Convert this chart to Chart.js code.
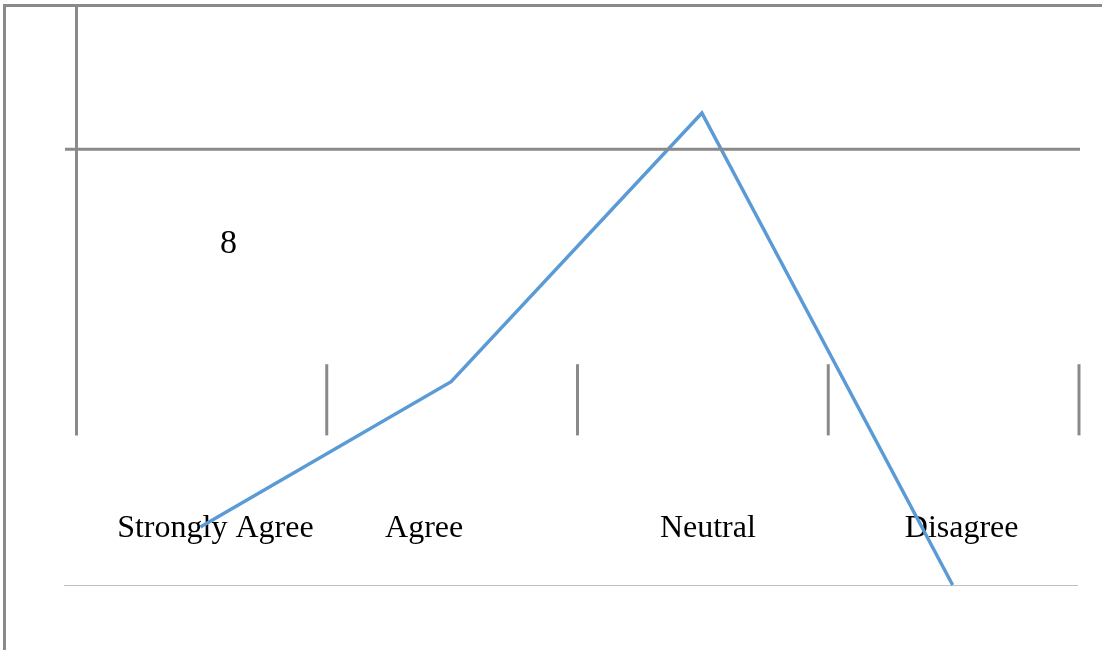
<!DOCTYPE html>
<html>
<head>
<meta charset="utf-8">
<title>Responses</title>
<script src="https://cdn.jsdelivr.net/npm/chart.js@4/dist/chart.umd.min.js"></script>
<style>
  html, body { margin: 0; padding: 0; background: #ffffff; }
  #wrap { width: 1102px; height: 650px; }
</style>
</head>
<body>
<div id="wrap"><canvas id="chart" width="1102" height="650"></canvas></div>
<script>
// Survey answers and how many respondents picked each one
const categories = ['Strongly Agree', 'Agree', 'Neutral', 'Disagree'];
const responses = [8, 28, 65, 0];

// Value axis range and the single major gridline
const yMin = 0;
const yMax = 80;
const majorGrid = 60;

// Horizontal nudges for the category captions (px)
const labelShift = [15, -27, 6, 9];

const GREY = '#8a8a8a';
const LIGHT = '#c0c0c0';
const SERIF = '"Liberation Serif", "Times New Roman", serif';

const frame = {
  id: 'frame',
  beforeDatasetsDraw(chart) {
    const { ctx, chartArea: a, scales: { x, y } } = chart;
    ctx.save();
    ctx.strokeStyle = GREY;
    ctx.lineWidth = 3;

    // outer frame: left and top edges
    ctx.beginPath();
    ctx.moveTo(4.5, chart.height);
    ctx.lineTo(4.5, 5.5);
    ctx.lineTo(chart.width, 5.5);
    ctx.stroke();

    // value axis line
    const foot = y.getPixelForValue(20.6);
    ctx.beginPath();
    ctx.moveTo(a.left + 1.5, a.top);
    ctx.lineTo(a.left + 1.5, foot);
    ctx.stroke();

    // category separators
    const step = (a.right - a.left) / categories.length;
    const tickTop = y.getPixelForValue(30.4);
    for (let i = 1; i <= categories.length; i++) {
      const px = a.left + step * i + 1;
      ctx.beginPath();
      ctx.moveTo(px, tickTop);
      ctx.lineTo(px, foot);
      ctx.stroke();
    }

    // zero baseline
    const y0 = Math.round(y.getPixelForValue(0)) + 0.5;
    ctx.strokeStyle = LIGHT;
    ctx.lineWidth = 1;
    ctx.beginPath();
    ctx.moveTo(a.left - 11, y0);
    ctx.lineTo(a.right, y0);
    ctx.stroke();

    // category captions
    ctx.fillStyle = '#000000';
    ctx.font = '32px ' + SERIF;
    ctx.textAlign = 'center';
    ctx.textBaseline = 'alphabetic';
    categories.forEach((c, i) => {
      ctx.fillText(c, x.getPixelForValue(i) + labelShift[i], 537);
    });

    // value label for the first answer
    ctx.font = '34px ' + SERIF;
    ctx.fillText(String(responses[0]), x.getPixelForValue(0) + 28, 253);
    ctx.restore();
  },
  afterDatasetsDraw(chart) {
    const { ctx, chartArea: a, scales: { y } } = chart;
    ctx.save();
    ctx.strokeStyle = GREY;
    ctx.lineWidth = 3;
    const gy = y.getPixelForValue(majorGrid);
    ctx.beginPath();
    ctx.moveTo(a.left - 10, gy);
    ctx.lineTo(a.right + 2, gy);
    ctx.stroke();
    ctx.restore();
  }
};

new Chart(document.getElementById('chart'), {
  type: 'line',
  data: {
    labels: categories,
    datasets: [{
      data: responses,
      borderColor: '#5b9bd5',
      borderWidth: 3.5,
      pointRadius: 0,
      tension: 0,
      clip: false
    }]
  },
  options: {
    responsive: false,
    animation: false,
    layout: { padding: { left: 75, right: 24, top: 4, bottom: 65 } },
    plugins: { legend: { display: false }, tooltip: { enabled: false } },
    scales: {
      x: { display: false, offset: true },
      y: { display: false, min: yMin, max: yMax }
    }
  },
  plugins: [frame]
});
</script>
</body>
</html>
